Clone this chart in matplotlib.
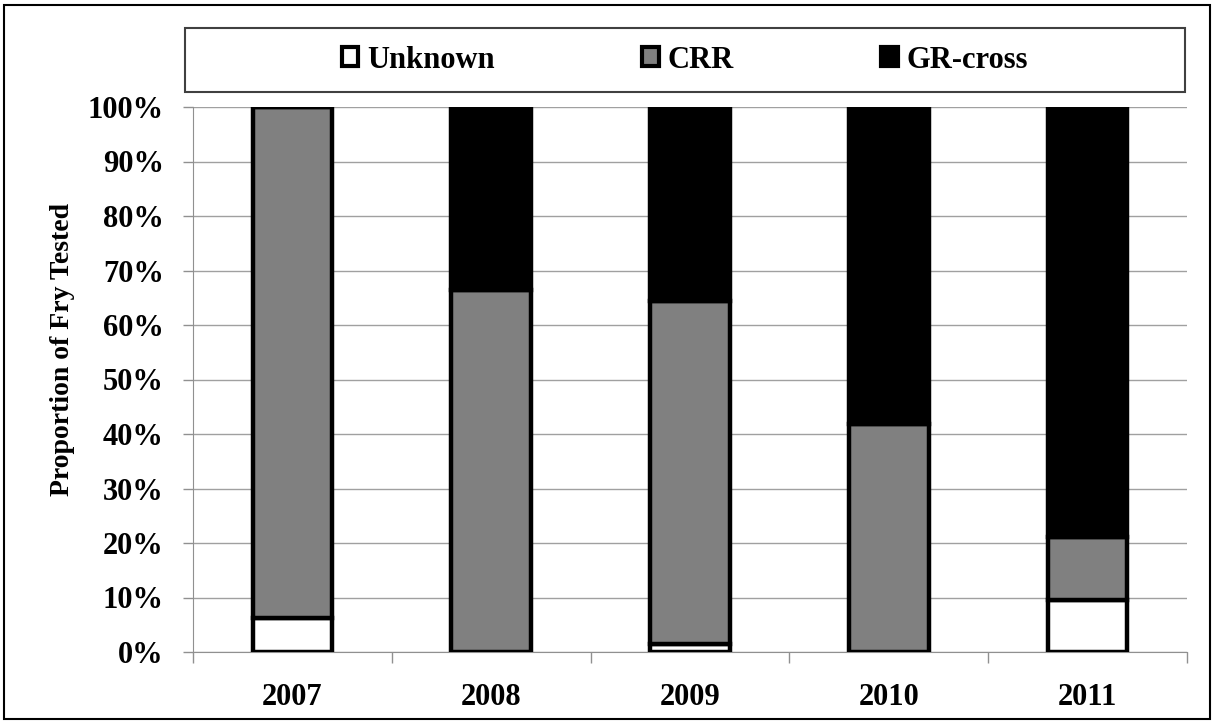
import numpy as np
import matplotlib.pyplot as plt
from matplotlib.patches import Patch, Rectangle

years = ['2007', '2008', '2009', '2010', '2011']
unknown = [6.3, 0.0, 1.5, 0.0, 9.5]
crr = [93.7, 66.4, 62.9, 41.8, 11.6]
gr_cross = [0.0, 33.6, 35.6, 58.2, 78.9]

plt.rcParams['font.family'] = 'Liberation Serif'
plt.rcParams['font.weight'] = 'bold'

fig = plt.figure(figsize=(12.14, 7.24), dpi=100)
ax = fig.add_axes([193 / 1214, 1 - 652 / 724, (1187 - 193) / 1214, (652 - 107) / 724])

x = np.arange(len(years))
w = 0.40
ax.bar(x, unknown, w, color='white', edgecolor='black', linewidth=3.2, zorder=3)
ax.bar(x, crr, w, bottom=unknown, color='#808080', edgecolor='black', linewidth=3.2, zorder=3)
bottom2 = np.array(unknown) + np.array(crr)
ax.bar(x, gr_cross, w, bottom=bottom2, color='black', edgecolor='black', linewidth=3.2, zorder=3)

ax.set_xlim(-0.5, len(years) - 0.5)
ax.set_ylim(0, 100)
ax.set_yticks(np.arange(0, 101, 10))
ax.set_yticklabels([f'{v}%' for v in range(0, 101, 10)], fontsize=22, fontweight='bold')
ax.set_xticks(x)
ax.set_xticklabels(years, fontsize=22, fontweight='bold')
ax.set_xticks(np.arange(-0.5, len(years), 1), minor=True)
ax.tick_params(axis='x', which='major', length=0, pad=22)
ax.tick_params(axis='x', which='minor', length=8, color='#909090', width=1)
ax.tick_params(axis='y', length=7, color='#909090', width=1, pad=14)

ax.yaxis.grid(True, color='#a0a0a0', linewidth=1, zorder=0)
ax.set_axisbelow(True)
for s in ['top', 'right']:
    ax.spines[s].set_visible(False)
ax.spines['left'].set_color('#909090')
ax.spines['bottom'].set_color('#909090')

ax.set_ylabel('Proportion of Fry Tested', fontsize=20, fontweight='bold')
ax.yaxis.set_label_coords(-0.119, 0.555)

# legend box at the top
fig.patches.append(Rectangle((185 / 1214, 1 - 92 / 724), 1000 / 1214, 64 / 724,
                             transform=fig.transFigure, fill=False,
                             edgecolor='#404040', linewidth=1.5))
handles = [Patch(facecolor='white', edgecolor='black', linewidth=3, label='Unknown'),
           Patch(facecolor='#808080', edgecolor='black', linewidth=3, label='CRR'),
           Patch(facecolor='black', edgecolor='black', linewidth=3, label='GR-cross')]
fig.legend(handles=handles, loc='center', bbox_to_anchor=(685 / 1214, 1 - 60 / 724),
           ncol=3, frameon=False, fontsize=22, columnspacing=4.8,
           handlelength=0.55, handleheight=0.6, handletextpad=0.3)

# outer border
fig.patches.append(Rectangle((4 / 1214, 1 - 719 / 724), 1206 / 1214, 714 / 724,
                             transform=fig.transFigure, fill=False,
                             edgecolor='black', linewidth=1.5))

fig.savefig('out.png', dpi=100)
